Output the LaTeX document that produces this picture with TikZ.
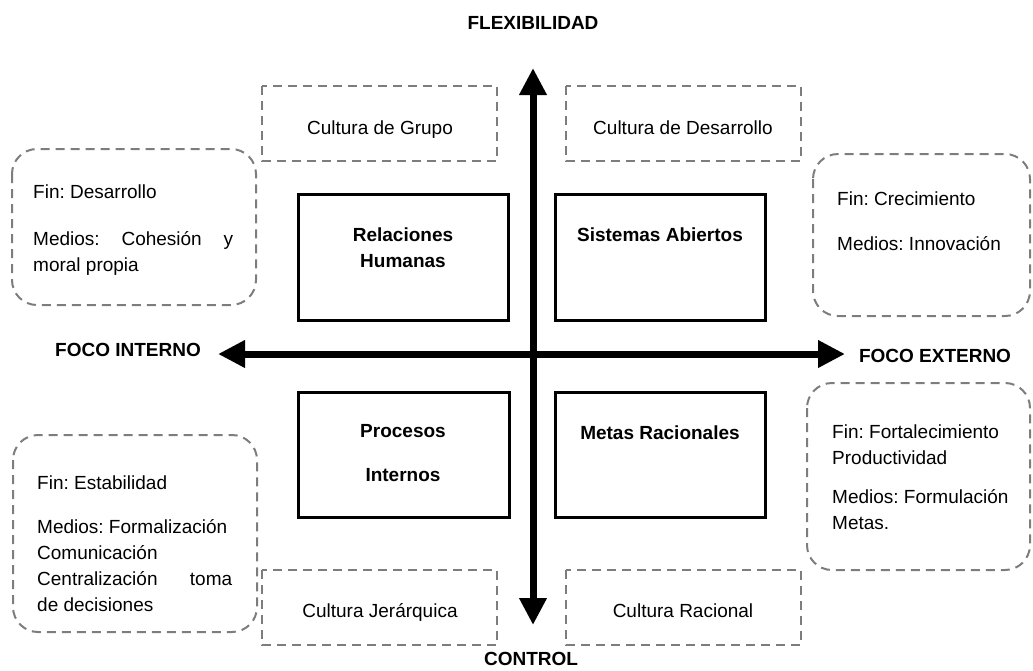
\documentclass[tikz,border=0pt]{standalone}
\usepackage{fontspec}
\setmainfont{Liberation Sans}
\usetikzlibrary{arrows.meta}
\definecolor{dashgray}{RGB}{125,125,125}
\frenchspacing
\begin{document}
\begin{tikzpicture}[x=1pt,y=-1pt,
  font=\fontsize{19}{26}\selectfont,
  txt/.style={inner sep=0pt, anchor=base west},
  ctxt/.style={inner sep=0pt, anchor=base},
  bold/.style={ctxt, font=\fontsize{19}{26}\selectfont\bfseries},
  culture/.style={draw=dashgray, line width=2pt, dash pattern=on 9pt off 6pt},
  info/.style={culture, rounded corners=25pt},
  quad/.style={draw=black, line width=3pt},
  axis/.style={line width=7pt, {Triangle[length=27pt,width=26pt]}-{Triangle[length=27pt,width=26pt]}}]
\useasboundingbox (0,0) rectangle (1033,670);

% axes
\coordinate (top) at (533,68);
\coordinate (bot) at (533,625);
\coordinate (lft) at (218,354);
\coordinate (rgt) at (845,354);
\draw[axis] (bot) -- (top);
\draw[axis] (lft) -- (rgt);

\node[bold] (flex) at (533,29) {FLEXIBILIDAD};
\node[bold] (ctrl) at (531,665) {CONTROL};
\node[bold] (fint) at (128,356) {FOCO INTERNO};
\node[bold] (fext) at (935,362) {FOCO EXTERNO};

% culture boxes
\draw[culture] (262,86) rectangle (497,161);
\draw[culture] (566,86) rectangle (801,161);
\draw[culture] (262,570) rectangle (497,645);
\draw[culture] (566,570) rectangle (801,645);
\node[ctxt] (cg) at (380,134) {Cultura de Grupo};
\node[ctxt] (cd) at (683,134) {Cultura de Desarrollo};
\node[ctxt] (cj) at (380,617) {Cultura Jerárquica};
\node[ctxt] (cr) at (683,617) {Cultura Racional};

% quadrant boxes
\draw[quad] (298,194) rectangle (508,320);
\draw[quad] (555,194) rectangle (765,320);
\draw[quad] (298,392) rectangle (509,517);
\draw[quad] (555,392) rectangle (765,517);
\node[bold] (rh1) at (403,241) {Relaciones};
\node[bold] (rh2) at (403,267) {Humanas};
\node[bold] (sa) at (660,241) {Sistemas Abiertos};
\node[bold] (pi1) at (403,437) {Procesos};
\node[bold] (pi2) at (403,481) {Internos};
\node[bold] (mr) at (660,439) {Metas Racionales};

% info boxes
\draw[info] (12,149) rectangle (256,305);
\node[txt] (a1) at (33,198) {Fin: Desarrollo};
\node[txt] (a2) at (33,245) {\makebox[200pt][s]{Medios: Cohesión y}};
\node[txt] (a3) at (33,271) {moral propia};

\draw[info] (813,154) rectangle (1030,316);
\node[txt] (b1) at (837,205) {Fin: Crecimiento};
\node[txt] (b2) at (837,250) {Medios: Innovación};

\draw[info] (13,435) rectangle (257,632);
\node[txt] (c1) at (37,489) {Fin: Estabilidad};
\node[txt] (c2) at (37,533) {Medios: Formalización};
\node[txt] (c3) at (37,559) {Comunicación};
\node[txt] (c4) at (37,585) {\makebox[195pt][s]{Centralización toma}};
\node[txt] (c5) at (37,611) {de decisiones};

\draw[info] (807,383) rectangle (1030,570);
\node[txt] (d1) at (832,438) {Fin: Fortalecimiento};
\node[txt] (d2) at (832,464) {Productividad};
\node[txt] (d3) at (832,503) {Medios: Formulación};
\node[txt] (d4) at (832,529) {Metas.};
\end{tikzpicture}
\end{document}
